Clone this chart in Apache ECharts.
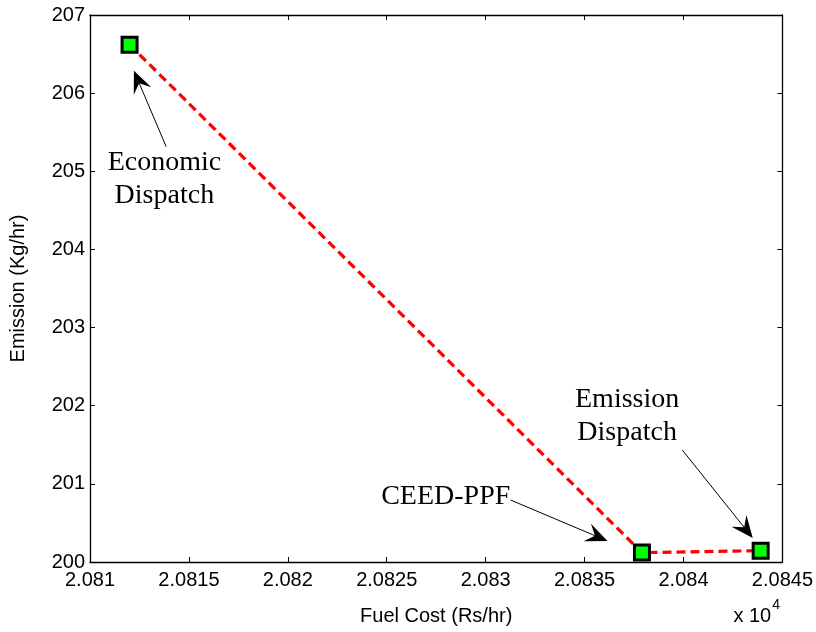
<!DOCTYPE html>
<html>
<head>
<meta charset="utf-8">
<script src="https://cdn.jsdelivr.net/npm/echarts@6/dist/echarts.min.js"></script>
<style>html,body{margin:0;padding:0;background:#fff}#c{width:816px;height:632px}</style>
</head>
<body>
<div id="c"></div>
<script>
// Data (fuel cost in Rs/hr, emission in Kg/hr)
var fuelCost = [20812.0, 20837.9, 20843.9];
var emission = [206.62, 200.12, 200.145];

// Axis ranges / ticks
var xMin = 20810, xMax = 20845, xStep = 5;
var yMin = 200, yMax = 207, yStep = 1;

// Annotations (data coordinates)
var annoTexts = ['Economic\nDispatch', 'CEED-PPF', 'Emission\nDispatch'];
var annoTextX = [20813.76, 20827.98, 20837.15];
var annoTextY = [204.90, 200.832, 201.868];
var arrowFromX = [20813.85, 20831.26, 20839.94];
var arrowFromY = [205.315, 200.793, 201.433];
var arrowToX = [20812.22, 20836.16, 20843.50];
var arrowToY = [206.287, 200.269, 200.307];

var chart = echarts.init(document.getElementById('c'));
var sans = 'Liberation Sans, Arial, sans-serif';
var tickFont = {fontFamily: sans, fontSize: 20, color: '#000'};
function xFmt(v){ return String(parseFloat((v/1e4).toFixed(5))); }

var axisCommon = {
  axisLine: {show: true, onZero: false, lineStyle: {color: '#000', width: 1.3}},
  axisTick: {show: true, inside: true, length: 5, lineStyle: {color: '#000', width: 1}},
  splitLine: {show: false}
};

var option = {
  animation: false,
  backgroundColor: '#fff',
  grid: {left: 85, right: 33, top: 15, bottom: 70, containLabel: false},
  xAxis: [
    Object.assign({type: 'value', min: xMin, max: xMax, interval: xStep, position: 'bottom',
      name: 'Fuel Cost (Rs/hr)', nameLocation: 'middle', nameGap: 44,
      nameTextStyle: {fontFamily: sans, fontSize: 20, color: '#000'},
      axisLabel: Object.assign({formatter: xFmt, margin: 8}, tickFont)}, axisCommon),
    Object.assign({type: 'value', min: xMin, max: xMax, interval: xStep, position: 'top',
      axisLabel: {show: false}}, axisCommon)
  ],
  yAxis: [
    Object.assign({type: 'value', min: yMin, max: yMax, interval: yStep, position: 'left',
      name: 'Emission (Kg/hr)', nameLocation: 'middle', nameGap: 62,
      nameTextStyle: {fontFamily: sans, fontSize: 20, color: '#000'},
      axisLabel: Object.assign({margin: 5}, tickFont)}, axisCommon),
    Object.assign({type: 'value', min: yMin, max: yMax, interval: yStep, position: 'right',
      axisLabel: {show: false}}, axisCommon)
  ],
  series: [{
    type: 'line',
    data: fuelCost.map(function(x, i){ return [x, emission[i]]; }),
    lineStyle: {color: '#ff0000', width: 3.2, type: [9, 5]},
    symbol: 'rect',
    symbolSize: 15,
    itemStyle: {color: '#00ff00', borderColor: '#000', borderWidth: 3},
    z: 3
  }]
};
chart.setOption(option);

var g = [];
for (var k = 0; k < annoTexts.length; k++) {
  var p = chart.convertToPixel({gridIndex: 0}, [annoTextX[k], annoTextY[k]]);
  g.push({type: 'text', x: p[0], y: p[1], silent: true,
    style: {text: annoTexts[k], x: 0, y: 0, align: 'center', verticalAlign: 'middle',
      font: '28px "Liberation Serif", "Times New Roman", serif', lineHeight: 33, fill: '#000'}});
}
// arrows
var L = 22, W = 19, notch = 0.62;
for (var a = 0; a < arrowFromX.length; a++) {
  var s = chart.convertToPixel({gridIndex: 0}, [arrowFromX[a], arrowFromY[a]]);
  var t = chart.convertToPixel({gridIndex: 0}, [arrowToX[a], arrowToY[a]]);
  var dx = t[0] - s[0], dy = t[1] - s[1], len = Math.sqrt(dx*dx + dy*dy);
  var ux = dx/len, uy = dy/len, px = -uy, py = ux;
  var bx = t[0] - ux*L, by = t[1] - uy*L;
  var nx = t[0] - ux*L*notch, ny = t[1] - uy*L*notch;
  g.push({type: 'line', silent: true, shape: {x1: s[0], y1: s[1], x2: nx, y2: ny},
    style: {stroke: '#000', lineWidth: 1}});
  g.push({type: 'polygon', silent: true, shape: {points: [
    [t[0], t[1]], [bx + px*W/2, by + py*W/2], [nx, ny], [bx - px*W/2, by - py*W/2]]},
    style: {fill: '#000'}});
}
g.push({type: 'text', right: 36, bottom: 6, silent: true,
  style: {text: '{a|x 10}{b|4}', rich: {
    a: {fontFamily: sans, fontSize: 20, color: '#000', verticalAlign: 'bottom'},
    b: {fontFamily: sans, fontSize: 14, color: '#000', verticalAlign: 'top', padding: [0,0,14,1]}
  }}});
chart.setOption({graphic: g});
</script>
</body>
</html>
